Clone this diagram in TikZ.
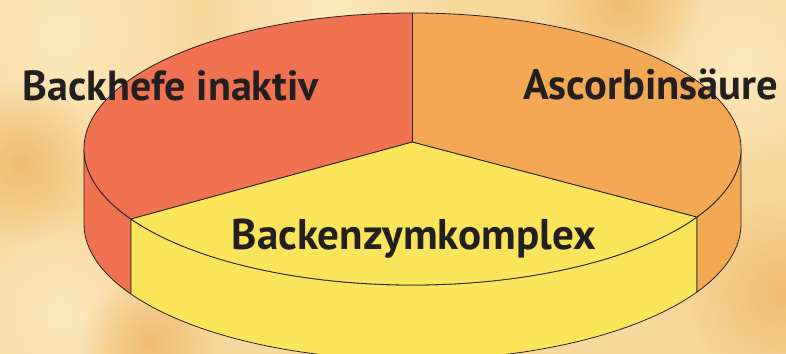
\documentclass[tikz,border=0pt]{standalone}
\usepackage{fontspec}
\usepackage{graphicx}
\setmainfont{PT Sans}
\usetikzlibrary{fadings}
\tikzfading[name=softblob, inner color=transparent!0, outer color=transparent!100]
\definecolor{redslice}{RGB}{240,114,80}
\definecolor{orangeslice}{RGB}{245,168,84}
\definecolor{yellowslice}{RGB}{250,228,90}
\definecolor{edgecol}{RGB}{40,36,36}
\definecolor{ink}{RGB}{35,31,32}
\definecolor{bgbase}{RGB}{247,216,156}
\definecolor{bglight}{RGB}{252,234,190}
\definecolor{bgdark}{RGB}{240,186,112}
\newcommand\sidepiece[3]{%
  \filldraw[piece, fill=#1] (#2:\pra pt and \prb pt) -- ++(0,-\prd)
    arc[start angle=#2, end angle=#3, x radius=\pra pt, y radius=\prb pt]
    -- ++(0,\prd)
    arc[start angle=#3, end angle=#2, x radius=\pra pt, y radius=\prb pt] -- cycle;}
\begin{document}
\begin{tikzpicture}[x=1pt,y=1pt,
  piece/.style={draw=edgecol, line width=0.8pt, line join=round},
  blob/.style={path fading=softblob},
  txt/.style={inner sep=0pt, anchor=base west, text=ink, font=\fontsize{40}{44}\selectfont\bfseries}]
\useasboundingbox (0,0) rectangle (786,353);
% background texture
\begin{scope}
\clip (-10,-10) rectangle (796,363);
\fill[bgbase] (-10,-10) rectangle (796,363);
\fill[bglight, blob] (60,320) circle (150);
\fill[bglight, blob] (330,350) circle (130);
\fill[bglight, blob] (60,40) circle (110);
\fill[bglight, blob] (740,290) circle (110);
\fill[bgdark, blob] (20,190) circle (80);
\fill[bgdark, blob] (780,60) circle (100);
\fill[bgdark, blob] (150,10) circle (70);
\fill[bgdark, blob] (620,350) circle (80);
\end{scope}
% pie
\begin{scope}[shift={(412.5,204)}]
  \def\pra{328.5}\def\prb{136}\def\prd{75}
  \coordinate (apex) at (0,7);
  % sides
  \sidepiece{redslice}{180}{211}
  \sidepiece{yellowslice}{211}{330}
  \sidepiece{orangeslice}{330}{360}
  % top
  \filldraw[piece, fill=redslice] (apex) -- (90:\pra pt and \prb pt)
    arc[start angle=90, end angle=211, x radius=\pra pt, y radius=\prb pt] -- cycle;
  \filldraw[piece, fill=yellowslice] (apex) -- (211:\pra pt and \prb pt)
    arc[start angle=211, end angle=330, x radius=\pra pt, y radius=\prb pt] -- cycle;
  \filldraw[piece, fill=orangeslice] (apex) -- (330:\pra pt and \prb pt)
    arc[start angle=330, end angle=450, x radius=\pra pt, y radius=\prb pt] -- cycle;
\end{scope}
% labels
\node[txt] (lhefe) at (22.5,252) {\resizebox{296pt}{!}{Backhefe inaktiv}};
\node[txt] (lasc) at (523,253) {\resizebox{255pt}{!}{Ascorbinsäure}};
\node[txt] (lenz) at (231.5,103) {\resizebox{364pt}{!}{Backenzymkomplex}};
\end{tikzpicture}
\end{document}
